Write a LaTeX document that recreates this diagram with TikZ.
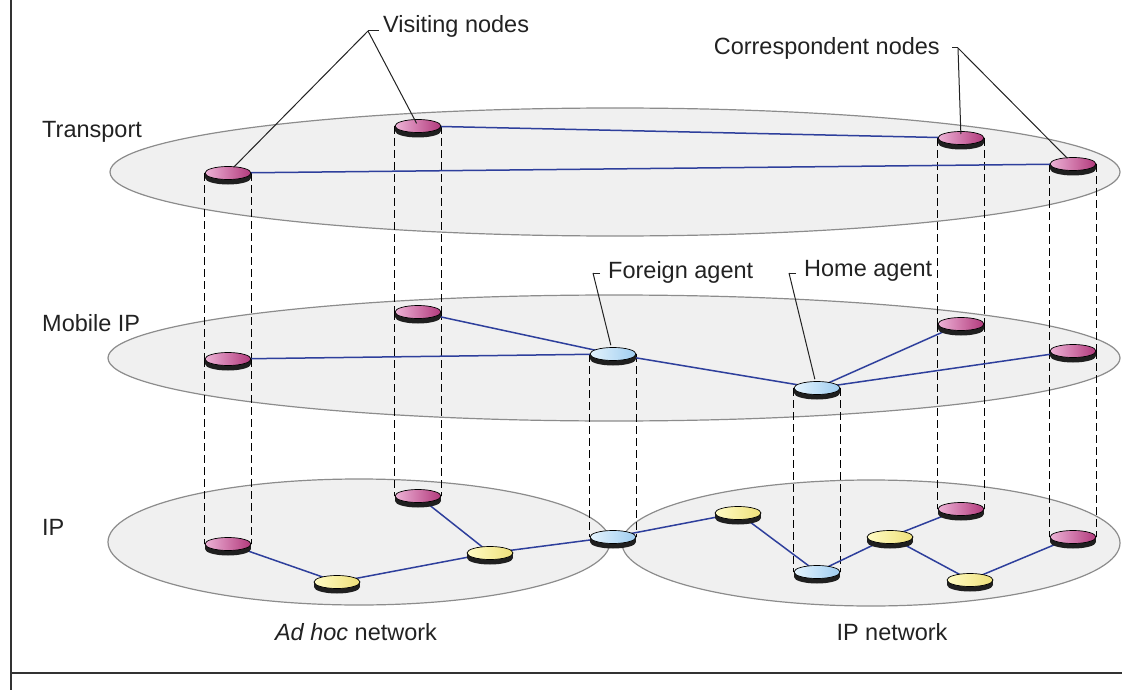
\documentclass[tikz,border=0pt]{standalone}
\usepackage{fontspec}
\setmainfont{Liberation Sans}
\usetikzlibrary{shapes.geometric}
\pgfdeclarelayer{planes}
\pgfdeclarelayer{links}
\pgfsetlayers{planes,links,main}
\definecolor{pinkL}{HTML}{EDB2D6}
\definecolor{pinkD}{HTML}{B23A7C}
\definecolor{blueL}{HTML}{E4F3FD}
\definecolor{blueD}{HTML}{9FCDF0}
\definecolor{yelL}{HTML}{FFFBC4}
\definecolor{yelD}{HTML}{EEE07A}
\definecolor{planefill}{HTML}{F0F0F0}
\definecolor{planeline}{HTML}{8C8C8C}
\definecolor{linkblue}{HTML}{2E3F9C}
\definecolor{inkc}{HTML}{222222}
\tikzset{
  x=1pt, y=-1pt,
  disc/.style={ellipse, draw=black, line width=0.7pt, minimum width=46pt,
    minimum height=13pt, inner sep=0pt},
  pinkdisc/.style={disc, left color=pinkL, right color=pinkD},
  bluedisc/.style={disc, left color=blueL, right color=blueD},
  yeldisc/.style={disc, left color=yelL, right color=yelD},
  discband/.style={fill=black!88},
  plane/.style={ellipse, fill=planefill, draw=planeline, line width=1.2pt, inner sep=0pt},
  link/.style={draw=linkblue, line width=1.5pt},
  column/.style={draw=black, line width=1.5pt, dash pattern=on 8pt off 4pt},
  leader/.style={draw=inkc, line width=1pt},
  lbl/.style={inner sep=0pt, text=inkc, font=\fontsize{23.5}{28}\selectfont},
  frameline/.style={draw=black!80, line width=2pt}
}
\newcommand\netdisc[4]{%
  \fill[discband] (#2-23,#3) rectangle (#2+23,#3+5);
  \fill[discband] (#2,#3+5) ellipse [x radius=23pt, y radius=6.5pt];
  \node[#4] (#1) at (#2,#3) {};
}
\begin{document}
\begin{tikzpicture}
\useasboundingbox (0,0) rectangle (1122,690);
% frame lines
\coordinate (ftop) at (11,0);
\coordinate (fcorner) at (11,673);
\coordinate (fbot) at (11,690);
\coordinate (fright) at (1122,673);
\draw[frameline] (ftop) -- (fbot);
\draw[frameline] (fcorner) -- (fright);

% planes
\begin{pgfonlayer}{planes}
\node[plane, minimum width=1010pt, minimum height=128pt] (transportplane) at (615,172) {};
\node[plane, minimum width=1012pt, minimum height=126pt] (mobileplane) at (614,358) {};
\node[plane, minimum width=502pt, minimum height=126pt] (adhocplane) at (359,542) {};
\node[plane, minimum width=498pt, minimum height=126pt] (ipplane) at (871,543) {};
\end{pgfonlayer}

% discs
\netdisc{t1}{228}{173}{pinkdisc}
\netdisc{t2}{418}{126}{pinkdisc}
\netdisc{t3}{961}{138}{pinkdisc}
\netdisc{t4}{1073}{164}{pinkdisc}

\netdisc{m1}{228}{359}{pinkdisc}
\netdisc{m2}{418}{312}{pinkdisc}
\netdisc{mF}{613}{354}{bluedisc}
\netdisc{mH}{817}{388}{bluedisc}
\netdisc{m3}{961}{324}{pinkdisc}
\netdisc{m4}{1073}{351}{pinkdisc}

\netdisc{i1}{228}{544}{pinkdisc}
\netdisc{i2}{418}{496}{pinkdisc}
\netdisc{y1}{337}{582}{yeldisc}
\netdisc{y2}{490}{553}{yeldisc}
\netdisc{iF}{613}{537}{bluedisc}
\netdisc{y3}{738}{513}{yeldisc}
\netdisc{iH}{817}{572}{bluedisc}
\netdisc{y4}{890}{537}{yeldisc}
\netdisc{i3}{961}{509}{pinkdisc}
\netdisc{y5}{970}{580}{yeldisc}
\netdisc{i4}{1073}{537}{pinkdisc}

% links and columns
\begin{pgfonlayer}{links}
\foreach \a/\b in {t1/m1, m1/i1, t2/m2, m2/i2, t3/m3, m3/i3, t4/m4, m4/i4, mF/iF, mH/iH}{
  \draw[column] (\a.west) -- (\b.west);
  \draw[column] (\a.east) -- (\b.east);
}
\foreach \a/\b in {t1/t4, t2/t3,
  m1/mF, m2/mF, mF/mH, mH/m3, mH/m4,
  i1/y1, y1/y2, y2/i2, y2/iF, iF/y3, y3/iH, iH/y4, y4/i3, y4/y5, y5/i4}{
  \draw[link] (\a.center) -- (\b.center);
}
\end{pgfonlayer}

% layer labels
\node[lbl, anchor=base west] (ltransport) at (42,138) {Transport};
\node[lbl, anchor=base west] (lmobile) at (42,331) {Mobile IP};
\node[lbl, anchor=base west] (lip) at (42,535) {IP};
\node[lbl, anchor=base] (ladhoc) at (356,640) {\itshape Ad hoc\upshape{} network};
\node[lbl, anchor=base] (lipnet) at (892,640) {IP network};

% callouts
\node[lbl, anchor=base west] (lvisit) at (383,33) {Visiting nodes};
\coordinate (visapex) at (368,31);
\coordinate (vistick) at (379,31);
\draw[leader] (vistick) -- (visapex);
\draw[leader, shorten >=8pt] (visapex) -- (t1.center);
\draw[leader, shorten >=3pt] (visapex) -- (t2.center);

\node[lbl, anchor=base east] (lcorr) at (940,55) {Correspondent nodes};
\coordinate (corrapex) at (958,48);
\coordinate (corrtick) at (952,48);
\draw[leader] (corrtick) -- (corrapex);
\draw[leader, shorten >=4pt] (corrapex) -- (t3.center);
\draw[leader, shorten >=8pt] (corrapex) -- (t4.center);

\node[lbl, anchor=base west] (lforeign) at (608,278) {Foreign agent};
\coordinate (faapex) at (593,273);
\coordinate (fatick) at (600,273);
\draw[leader] (fatick) -- (faapex);
\draw[leader, shorten >=9pt] (faapex) -- (mF.center);

\node[lbl, anchor=base west] (lhome) at (804,276) {Home agent};
\coordinate (haapex) at (789,273);
\coordinate (hatick) at (796,273);
\draw[leader] (hatick) -- (haapex);
\draw[leader, shorten >=9pt] (haapex) -- (mH.center);
\end{tikzpicture}
\end{document}
